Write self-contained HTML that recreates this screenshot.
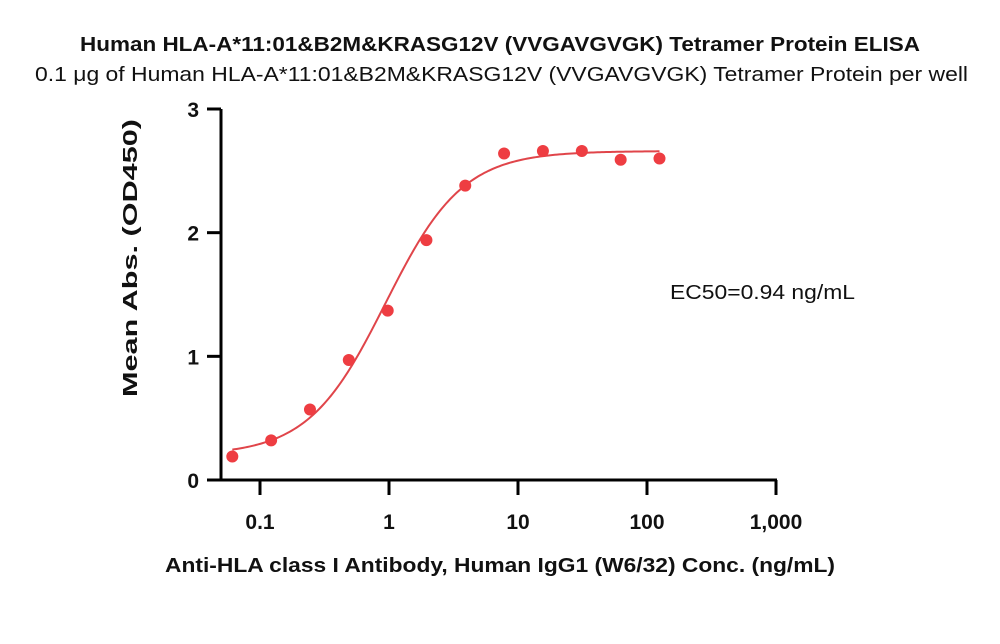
<!DOCTYPE html>
<html><head><meta charset="utf-8">
<style>
html,body{margin:0;padding:0;background:#fff;}
body{width:1000px;height:639px;overflow:hidden;font-family:"Liberation Sans",Arial,sans-serif;}
</style></head>
<body>
<svg width="1000" height="639" viewBox="0 0 1000 639" id="chart">
<text x="80" y="51" textLength="840" lengthAdjust="spacingAndGlyphs" font-size="20" font-weight="bold" fill="#111">Human HLA-A*11:01&amp;B2M&amp;KRASG12V (VVGAVGVGK) Tetramer Protein ELISA</text>
<text x="35" y="81" textLength="933" lengthAdjust="spacingAndGlyphs" font-size="20" fill="#111">0.1 μg of Human HLA-A*11:01&amp;B2M&amp;KRASG12V (VVGAVGVGK) Tetramer Protein per well</text>
<text transform="translate(137,397) rotate(-90)" textLength="278" lengthAdjust="spacingAndGlyphs" font-size="20" font-weight="bold" fill="#111">Mean Abs. (OD450)</text>
<text x="165" y="572" textLength="670" lengthAdjust="spacingAndGlyphs" font-size="20" font-weight="bold" fill="#111">Anti-HLA class I Antibody, Human IgG1 (W6/32) Conc. (ng/mL)</text>
<text x="670" y="299" textLength="185" lengthAdjust="spacingAndGlyphs" font-size="20" fill="#111">EC50=0.94 ng/mL</text>
<g id="axes"></g>
<g id="marks"></g>
</svg>
<script>
const conc = [0.061,0.122,0.244,0.488,0.977,1.95,3.9,7.8,15.6,31.25,62.5,125];
const od = [0.19,0.32,0.57,0.97,1.37,1.94,2.38,2.64,2.66,2.66,2.59,2.60];
const fitParams = [0.20,2.66,0.94,1.45]; // bottom, top, EC50, hill
const xTicks = [0.1,1,10,100,1000];
const xTickLabels = ["0.1","1","10","100","1,000"];
const yTicks = [0,1,2,3];
const yTickLabels = ["0","1","2","3"];

const NS="http://www.w3.org/2000/svg";
const X0=221, X1=777, Y0=480, Y1=109;
function xs(v){ return 389 + (Math.log10(v))*129; }
function ys(v){ return Y0 - (v/3)*(Y0-Y1); }
function mk(tag,attrs,parent){const e=document.createElementNS(NS,tag);for(const k in attrs)e.setAttribute(k,attrs[k]);parent.appendChild(e);return e;}
const axes=document.getElementById('axes'), marks=document.getElementById('marks');

const xa=mk('line',{x1:X0-1.5,y1:Y0,x2:X1,y2:Y0,stroke:'#000','stroke-width':3},axes);


const ya=mk('line',{x1:X0,y1:Y0+1.5,x2:X0,y2:Y1,stroke:'#000','stroke-width':3},axes);



xTicks.forEach((t,i)=>{
  const x=xs(t);
  const l=mk('line',{x1:x,y1:Y0,x2:x,y2:Y0+15,stroke:'#000','stroke-width':3},axes);
  
  
  const tx=mk('text',{x:x,y:529,'text-anchor':'middle','font-size':21,'font-weight':'bold',fill:'#111'},axes);
  tx.textContent=xTickLabels[i];
  
  
});
yTicks.forEach((t,i)=>{
  const y=ys(t);
  const l=mk('line',{x1:X0-14,y1:y,x2:X0,y2:y,stroke:'#000','stroke-width':3},axes);
  
  
  const tx=mk('text',{x:199,y:y+8,'text-anchor':'end','font-size':21,'font-weight':'bold',fill:'#111'},axes);
  tx.textContent=yTickLabels[i];
  
  
});

const [B,T,E,H]=fitParams;
let d='';
const lo=Math.log10(conc[0]), hi=Math.log10(conc[conc.length-1]);
for(let k=0;k<=200;k++){
  const lx=lo+(hi-lo)*k/200, c=Math.pow(10,lx);
  const v=B+(T-B)/(1+Math.pow(E/c,H));
  d+=(k?'L':'M')+xs(c).toFixed(2)+','+ys(v).toFixed(2);
}
const curve=mk('path',{d:d,fill:'none',stroke:'#e0454a','stroke-width':2},marks);



conc.forEach((c,i)=>{
  const p=mk('circle',{cx:xs(c),cy:ys(od[i]),r:6,fill:'#ee3d42'},marks);
  
  
});
</script>
</body></html>
